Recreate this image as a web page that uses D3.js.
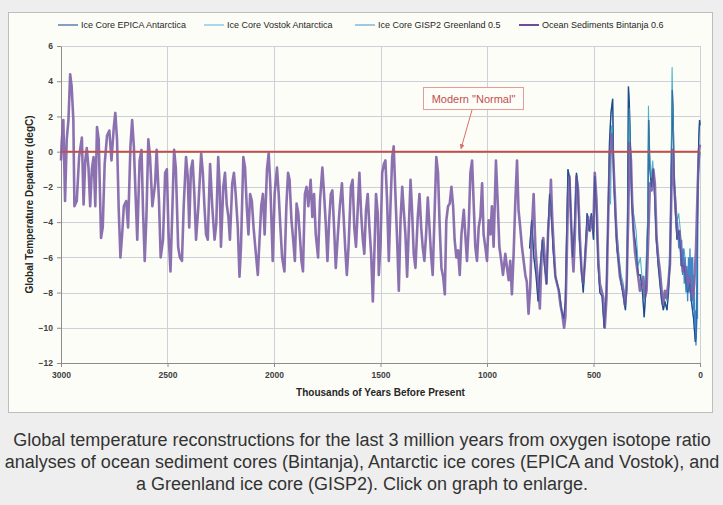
<!DOCTYPE html>
<html>
<head>
<meta charset="utf-8">
<script src="https://cdn.jsdelivr.net/npm/d3@7"></script>
<style>
  html, body { margin: 0; padding: 0; background: #eeeeee; }
  svg { display: block; }
</style>
</head>
<body>
<svg id="chart" width="723" height="505"></svg>
<script>
// ---------------- DATA ----------------
const seriesNames = ["Ice Core EPICA Antarctica", "Ice Core Vostok Antarctica", "Ice Core GISP2 Greenland 0.5", "Ocean Sediments Bintanja 0.6"];
const yTicks = [-12, -10, -8, -6, -4, -2, 0, 2, 4, 6];
const xTicks = [3000, 2500, 2000, 1500, 1000, 500, 0];
const modernNormal = 0;

// [thousands of years before present, temperature departure degC]
const bintanja = [
[3000,-0.5],[2997,0.5],[2989,1.8],[2981,-2.8],[2973,0.7],[2965,1.8],[2957,4.4],[2950,3.7],[2942,1.8],[2937,-3.1],[2926,-2.8],[2915,-0.3],[2902,0.8],[2894,-3.0],[2886,-0.5],[2879,0.2],[2871,-0.9],[2863,-3.1],[2855,-1.0],[2847,-0.3],[2839,-3.1],[2831,1.4],[2823,0.7],[2812,-4.9],[2804,-4.3],[2795,-0.7],[2784,0.9],[2773,1.2],[2763,-0.5],[2752,1.4],[2745,2.2],[2737,0.7],[2729,-3.3],[2721,-6.0],[2713,-4.7],[2705,-3.1],[2694,-2.8],[2685,-4.3],[2674,0.3],[2666,1.8],[2658,0.3],[2650,-2.4],[2642,-5.0],[2631,-0.5],[2622,0.1],[2615,-3.3],[2607,-6.2],[2599,-3.7],[2590,0.7],[2582,-0.3],[2571,-3.1],[2558,-1.8],[2551,0.1],[2540,-2.8],[2532,-6.0],[2521,-5.0],[2511,-1.2],[2503,-1.0],[2495,-4.7],[2486,-6.8],[2476,-2.8],[2469,0.1],[2461,-0.9],[2450,-5.4],[2442,-6.0],[2432,-6.2],[2424,-3.1],[2413,-0.3],[2405,-1.4],[2398,-4.3],[2390,-1.0],[2382,-0.5],[2374,-2.4],[2366,-5.0],[2355,-3.1],[2342,-0.1],[2334,-1.2],[2327,-3.0],[2319,-4.7],[2311,-5.0],[2300,-0.7],[2290,-3.1],[2279,-5.0],[2271,-4.1],[2262,-0.3],[2255,-2.0],
[2249,-5.4],[2238,-2.0],[2230,-1.2],[2222,-3.0],[2214,-3.7],[2207,-5.0],[2196,-1.8],[2188,-1.2],[2180,-2.4],[2170,-4.3],[2162,-7.1],[2155,-5.4],[2144,-0.3],[2136,-0.9],[2128,-3.1],[2120,-4.7],[2112,-2.4],[2104,-2.8],[2096,-4.3],[2088,-5.4],[2076,-7.0],[2068,-5.0],[2060,-3.1],[2052,-2.4],[2044,-4.7],[2033,-1.0],[2025,-0.1],[2017,-2.0],[2006,-6.2],[1997,-2.4],[1986,-0.9],[1978,-2.4],[1970,-4.3],[1962,-6.0],[1951,-6.8],[1942,-3.1],[1934,-1.2],[1927,-1.6],[1918,-3.9],[1910,-5.0],[1902,-6.2],[1894,-2.95],[1886,-3.5],[1878,-4.9],[1871,-6.2],[1864,-6.8],[1855,-2.4],[1847,-2.0],[1839,-3.1],[1828,-1.6],[1820,-3.7],[1812,-2.4],[1804,-4.7],[1793,-6.0],[1784,-2.8],[1773,-0.9],[1765,-2.4],[1757,-4.1],[1749,-6.2],[1741,-3.9],[1733,-2.4],[1726,-2.2],[1718,-4.3],[1710,-6.6],[1700,-4.7],[1691,-3.1],[1681,-1.8],[1674,-3.5],[1666,-5.4],[1658,-7.0],[1650,-5.4],[1639,-2.0],[1631,-1.6],[1623,-4.3],[1615,-5.4],[1607,-3.3],[1599,-1.2],[1591,-3.5],[1583,-5.0],[1576,-5.8],[1568,-3.3],[1560,-2.4],[1552,-4.3],[1544,-5.8],[1536,-8.5],[1528,-5.4],[1521,-2.4],[1513,-3.5],
[1508,-7.0],[1500,-5.3],[1492,-1.2],[1484,-0.7],[1477,-0.5],[1469,-2.8],[1461,-6.2],[1453,-3.0],[1445,-0.3],[1438,0.3],[1430,-2.4],[1422,-5.0],[1414,-7.9],[1406,-3.9],[1398,-2.0],[1391,-3.3],[1383,-4.7],[1375,-7.1],[1367,-4.3],[1359,-1.6],[1352,-3.3],[1344,-5.8],[1336,-6.6],[1325,-3.7],[1317,-2.4],[1309,-4.3],[1302,-5.4],[1294,-6.2],[1286,-4.7],[1278,-2.6],[1270,-4.3],[1263,-5.8],[1255,-7.0],[1245,-3.1],[1238,-0.3],[1230,-1.2],[1222,-4.3],[1214,-6.6],[1206,-7.1],[1198,-8.1],[1191,-3.9],[1183,-3.1],[1175,-2.95],[1167,-2.0],[1159,-3.1],[1152,-5.0],[1144,-6.0],[1136,-5.6],[1128,-7.0],[1120,-4.7],[1109,-3.3],[1102,-4.7],[1094,-6.2],[1086,-4.3],[1078,-1.2],[1070,-0.5],[1063,-2.8],[1055,-5.4],[1047,-6.2],[1039,-4.3],[1031,-3.7],[1023,-1.8],[1016,-4.7],[1008,-5.4],[1000,-6.2],[992,-3.9],[984,-4.7],[977,-3.1],[969,-5.4],[958,-0.5],[950,-2.8],[942,-5.4],[933,-6.2],[925,-7.0],[914,-5.8],[906,-6.6],[898,-7.3],[891,-6.2],[883,-8.1],[875,-5.8],[867,-2.8],[859,-0.5],[852,-3.3],[844,-4.3],[836,-5.4],[828,-6.2],[820,-7.0],[813,-7.4],[805,-9.2],[797,-7.7],[789,-4.3],[781,-2.4],[773,-5.4],[766,-6.6],
[760,-7.4],[752,-8.9],[744,-6.0],[736,-4.9],[729,-6.0],[721,-7.5],[713,-4.5],[705,-3.3],[700,-1.6],[694,-3.7],[686,-5.6],[679,-7.1],[671,-7.5],[663,-7.9],[655,-8.7],[647,-9.2],[638,-10.0],[632,-9.4],[625,-5.6],[619,-2.4],[613,-1.4],[606,-3.7],[600,-5.6],[594,-6.8],[588,-4.9],[580,-1.4],[572,-2.2],[564,-4.9],[556,-6.8],[548,-7.5],[541,-6.4],[533,-4.9],[525,-3.7],[517,-4.5],[509,-3.7],[501,-4.5],[494,-1.2],[486,-2.7],[478,-6.0],[470,-7.5],[462,-7.9],[454,-8.3],[447,-10.0],[439,-8.3],[431,-3.7],[423,-0.1],[415,1.0],[407,-0.5],[399,-2.7],[392,-4.8],[384,-6.0],[376,-7.1],[368,-7.5],[360,-7.9],[353,-8.7],[345,-7.9],[337,-3.7],[331,0.5],[324,-0.5],[318,-3.0],[312,-4.5],[306,-5.6],[298,-6.4],[290,-7.1],[282,-7.9],[274,-7.5],[266,-7.1],[259,-8.3],[251,-7.9],[243,-4.9],[235,-1.8],[227,-2.2],[219,-1.0],[212,-1.8],[204,-4.9],[196,-6.0],[188,-6.8],[180,-7.9],[172,-8.7],[165,-7.9],[157,-8.3],[149,-7.5],[141,-6.4],[133,-1.4],[128,0.1],[122,-1.8],[114,-3.3],[105,-4.9],[97,-4.5],[89,-5.6],[81,-6.8],[74,-6.4],[66,-6.8],[58,-7.5],[50,-7.1],[42,-7.9],[34,-8.3],[27,-7.5],[19,-5.6],[11,-2.1],[5,0.1],[0,0.4]
];

const epica = [
[800,-5.5],[790,-3.9],[780,-6.0],[770,-7.0],[760,-8.5],[750,-6.5],[740,-5.0],[730,-6.5],[720,-7.5],[712,-4.0],[706,-2.4],[700,-3.0],[690,-5.5],[680,-7.0],[670,-7.5],[660,-8.0],[650,-9.0],[640,-9.5],[632,-8.5],[625,-4.0],[620,-1.0],[612,-1.5],[605,-4.0],[598,-6.0],[590,-4.5],[580,-1.2],[575,-1.8],[566,-5.0],[555,-7.0],[548,-8.0],[540,-6.0],[530,-3.5],[520,-4.5],[510,-3.5],[500,-5.0],[494,-1.4],[486,-3.5],[478,-6.5],[470,-8.0],[460,-8.2],[450,-10.0],[440,-8.0],[432,-4.0],[425,0.5],[418,2.2],[410,3.0],[405,-1.5],[398,-3.5],[390,-5.5],[380,-6.5],[370,-7.5],[360,-8.2],[350,-9.0],[342,-7.0],[338,0.0],[336,3.7],[332,2.8],[328,1.0],[320,-3.0],[312,-4.5],[300,-5.5],[290,-7.0],[280,-7.0],[270,-8.0],[262,-9.4],[255,-8.0],[245,-4.0],[241,1.8],[235,-1.0],[228,-2.0],[220,-1.0],[213,-2.5],[205,-5.0],[196,-6.5],[188,-7.5],[180,-8.5],[172,-9.0],[165,-8.5],[155,-9.0],[148,-8.0],[140,-6.0],[135,-1.0],[130,3.5],[127,2.5],[122,-1.0],[115,-3.5],[108,-5.0],[100,-4.5],[92,-5.5],[85,-6.5],[75,-6.5],[66,-7.5],[58,-8.0],[48,-7.5],[40,-8.5],[30,-9.5],[22,-10.8],[18,-10.5],[14,-8.0],[11,-3.0],[8,-0.5],[5,1.0],[2,1.8],[0,1.5]
];

const vostok = [
[420,-3.0],[415,1.5],[410,1.0],[405,-1.0],[398,-3.0],[390,-4.5],[380,-6.0],[370,-7.0],[360,-7.5],[350,-8.5],[342,-6.5],[336,-1.0],[332,2.5],[328,0.5],[320,-2.5],[312,-3.5],[300,-4.5],[290,-6.5],[280,-6.0],[270,-7.5],[262,-8.5],[255,-7.0],[245,-3.5],[242,2.6],[238,0.0],[230,-1.5],[222,-0.5],[215,-2.0],[205,-4.5],[196,-6.0],[188,-7.0],[180,-8.0],[172,-8.5],[165,-8.0],[155,-8.5],[148,-7.5],[140,-5.0],[135,-0.5],[131,4.8],[128,2.5],[124,1.0],[120,-2.0],[115,-2.5],[108,-4.0],[100,-3.5],[92,-4.5],[85,-6.0],[75,-5.5],[66,-6.5],[58,-7.0],[48,-6.5],[40,-7.5],[30,-8.5],[22,-9.5],[18,-9.0],[14,-6.0],[11,-2.0],[8,-0.5],[4,0.0],[0,-0.2]
];

const gisp2 = [
[105,-4.0],[100,-5.5],[95,-4.5],[90,-6.5],[86,-5.0],[82,-7.0],[78,-5.5],[74,-7.5],[70,-6.0],[66,-8.0],[62,-6.5],[58,-8.5],[54,-6.0],[50,-8.0],[47,-5.5],[44,-8.5],[40,-6.0],[37,-8.5],[34,-6.0],[31,-9.0],[28,-7.0],[25,-10.0],[22,-9.0],[19,-11.0],[16,-10.0],[14,-7.5],[12,-9.5],[11,-4.0],[9,-1.5],[6,-1.0],[3,-0.5],[0,0.0]
];

const seriesColors = ["#1F4E8C", "#4BB3CC", "#3F86C8", "#8062A8"];
const legendLineColors = ["#5B7FAF", "#8DCDE0", "#7FB6DD", "#6A4E98"];

// ---------------- CHART ----------------
const svg = d3.select("#chart");
const font = "'Liberation Sans Narrow', 'Arial Narrow', 'Liberation Sans', sans-serif";

// outer image box
svg.append("rect").attr("x", 8.5).attr("y", 12.5).attr("width", 704).attr("height", 400)
  .attr("fill", "#fdfdf8").attr("stroke", "#bdbdbd");

const x = d3.scaleLinear().domain([3000, 0]).range([61, 700]);
const y = d3.scaleLinear().domain([-12, 6]).range([363, 46]);

// gridlines
const grid = svg.append("g");
grid.selectAll("line.h").data(yTicks).join("line")
  .attr("x1", x(3000)).attr("x2", x(0))
  .attr("y1", d => Math.round(y(d)) + 0.5).attr("y2", d => Math.round(y(d)) + 0.5)
  .attr("stroke", "#cdd0d6").attr("stroke-width", 1);
grid.selectAll("line.v").data(xTicks.filter(d => d !== 3000)).join("line")
  .attr("y1", y(6)).attr("y2", y(-12))
  .attr("x1", d => Math.round(x(d)) + 0.5).attr("x2", d => Math.round(x(d)) + 0.5)
  .attr("stroke", "#cdd0d6").attr("stroke-width", 1);

// axes
const yAxis = d3.axisLeft(y).tickValues(yTicks).tickSize(4).tickSizeOuter(0).tickPadding(4).tickFormat(d3.format("d"));
const gy = svg.append("g").attr("transform", `translate(${x(3000)},0)`).call(yAxis);
const xAxis = d3.axisBottom(x).tickValues(xTicks).tickSize(4).tickSizeOuter(0).tickPadding(5).tickFormat(d3.format("d"));
const gx = svg.append("g").attr("transform", `translate(0,${y(-12)})`).call(xAxis);
[gx, gy].forEach(g => {
  g.select(".domain").attr("stroke", "#8c8c8c");
  g.selectAll(".tick line").attr("stroke", "#8c8c8c");
  g.selectAll(".tick text").attr("fill", "#404040").style("font-family", font)
    .style("font-size", "8.5px").style("font-weight", "bold");
});

// lines
const line = d3.line().x(d => x(d[0])).y(d => y(d[1]));
const plot = svg.append("g");
plot.append("path").datum(epica).attr("d", line).attr("fill", "none").attr("stroke", seriesColors[0]).attr("stroke-width", 1.4);
plot.append("path").datum(vostok).attr("d", line).attr("fill", "none").attr("stroke", seriesColors[1]).attr("stroke-width", 1.1);
plot.append("path").datum(gisp2).attr("d", line).attr("fill", "none").attr("stroke", seriesColors[2]).attr("stroke-width", 1.3);
plot.append("path").datum(bintanja).attr("d", line).attr("fill", "none").attr("stroke", seriesColors[3]).attr("stroke-width", 2.6).attr("stroke-opacity", 0.9).attr("stroke-linejoin", "round");
plot.append("path").datum(epica).attr("d", line).attr("fill", "none").attr("stroke", seriesColors[0]).attr("stroke-width", 0.9).attr("stroke-opacity", 0.55);

// modern normal line
svg.append("line").attr("x1", x(3000)).attr("x2", x(0)).attr("y1", y(modernNormal)).attr("y2", y(modernNormal))
  .attr("stroke", "#C0504D").attr("stroke-width", 2);

// annotation
const defs = svg.append("defs");
defs.append("marker").attr("id", "arrow").attr("viewBox", "0 0 10 10").attr("refX", 9).attr("refY", 5)
  .attr("markerWidth", 5).attr("markerHeight", 5).attr("orient", "auto")
  .append("path").attr("d", "M0,0 L10,5 L0,10 z").attr("fill", "#D9706A");
svg.append("rect").attr("x", 423.5).attr("y", 87.5).attr("width", 100).attr("height", 22)
  .attr("fill", "#fffdf8").attr("stroke", "#E39C97").attr("stroke-width", 1);
svg.append("text").attr("x", 473.5).attr("y", 102.5).attr("text-anchor", "middle")
  .attr("fill", "#C0504D").style("font-family", font).style("font-size", "11px")
  .text('Modern "Normal"');
svg.append("line").attr("x1", 472).attr("y1", 110).attr("x2", 461).attr("y2", y(modernNormal) - 3)
  .attr("stroke", "#D9706A").attr("stroke-width", 1).attr("marker-end", "url(#arrow)");

// axis titles
svg.append("text").attr("transform", `translate(33,${(y(6) + y(-12)) / 2}) rotate(-90)`)
  .attr("text-anchor", "middle").attr("fill", "#262626").style("font-family", font)
  .style("font-size", "10px").style("font-weight", "bold")
  .text("Global Temperature Departure (degC)");
svg.append("text").attr("x", (x(3000) + x(0)) / 2).attr("y", 396).attr("text-anchor", "middle")
  .attr("fill", "#262626").style("font-family", font).style("font-size", "10px").style("font-weight", "bold")
  .text("Thousands of Years Before Present");

// legend
const legendX = [58, 204, 355, 519];
const lg = svg.append("g");
seriesNames.forEach((name, i) => {
  lg.append("line").attr("x1", legendX[i]).attr("x2", legendX[i] + 20).attr("y1", 25).attr("y2", 25)
    .attr("stroke", legendLineColors[i]).attr("stroke-width", i === 3 ? 2 : 1.5);
  lg.append("text").attr("x", legendX[i] + 23).attr("y", 28).attr("fill", "#262626")
    .style("font-family", font).style("font-size", "9px").text(name);
});

// caption
const caption = [
  "Global temperature reconstructions for the last 3 million years from oxygen isotope ratio",
  "analyses of ocean sediment cores (Bintanja), Antarctic ice cores (EPICA and Vostok), and",
  "a Greenland ice core (GISP2). Click on graph to enlarge."
];
svg.append("g").selectAll("text").data(caption).join("text")
  .attr("x", 362).attr("y", (d, i) => 446 + i * 22).attr("text-anchor", "middle")
  .attr("fill", "#333333").style("font-family", "'Liberation Sans', Arial, sans-serif").style("font-size", "18px")
  .text(d => d);
</script>
</body>
</html>
